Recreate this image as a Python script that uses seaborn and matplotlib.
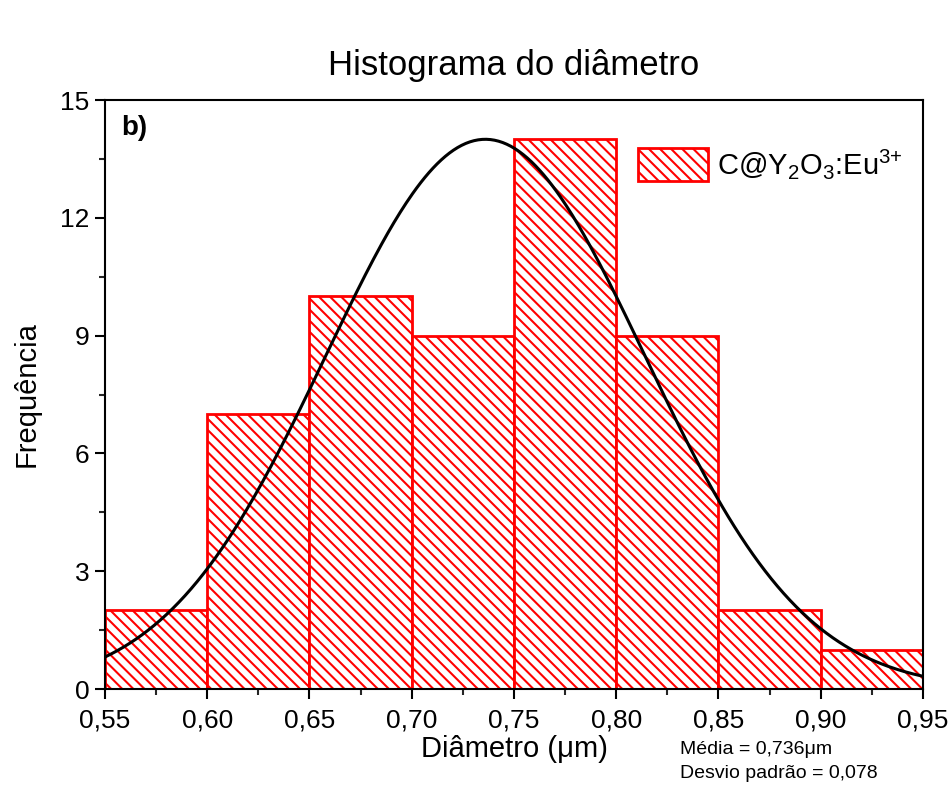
import numpy as np
import matplotlib
matplotlib.use("Agg")
import matplotlib.pyplot as plt
import seaborn as sns
from matplotlib.ticker import MultipleLocator, FuncFormatter

# Data
bin_edges = [0.55, 0.60, 0.65, 0.70, 0.75, 0.80, 0.85, 0.90, 0.95]
counts = [2, 7, 10, 9, 14, 9, 2, 1]
mean_d = 0.736
std_d = 0.078
fit_amplitude = 14.0

sns.set_theme(style="ticks")
plt.rcParams['font.family'] = ['Liberation Sans', 'DejaVu Sans']
plt.rcParams['text.color'] = 'black'
plt.rcParams['axes.labelcolor'] = 'black'
plt.rcParams['hatch.color'] = 'red'
plt.rcParams['hatch.linewidth'] = 1.5
plt.rcParams['mathtext.fontset'] = 'custom'
plt.rcParams['mathtext.rm'] = 'Liberation Sans'
plt.rcParams['mathtext.it'] = 'Liberation Sans'

fig, ax = plt.subplots(figsize=(9.52, 7.87), dpi=100)
fig.subplots_adjust(left=0.1103, right=0.9695, top=0.8729, bottom=0.1245)

centers = [(a + b) / 2 for a, b in zip(bin_edges[:-1], bin_edges[1:])]
sns.histplot(x=centers, weights=counts, bins=bin_edges, ax=ax,
             color='white', edgecolor='red', linewidth=2, alpha=1)
for p in ax.patches:
    p.set_hatch('\\\\\\')
    p.set_facecolor('white')
    p.set_edgecolor('red')

# Gaussian fit curve
xs = np.linspace(0.55, 0.95, 400)
ys = fit_amplitude * np.exp(-(xs - mean_d) ** 2 / (2 * std_d ** 2))
sns.lineplot(x=xs, y=ys, ax=ax, color='black', linewidth=2.2)

ax.set_xlim(0.55, 0.95)
ax.set_ylim(0, 15)
ax.xaxis.set_major_locator(MultipleLocator(0.05))
ax.xaxis.set_minor_locator(MultipleLocator(0.025))
ax.yaxis.set_major_locator(MultipleLocator(3))
ax.yaxis.set_minor_locator(MultipleLocator(1.5))
ax.xaxis.set_major_formatter(FuncFormatter(lambda v, p: f"{v:.2f}".replace('.', ',')))
ax.yaxis.set_major_formatter(FuncFormatter(lambda v, p: f"{v:.0f}"))
ax.tick_params(axis='both', which='major', length=7, width=1.5, direction='out',
               labelsize=19, colors='black', pad=4)
ax.tick_params(axis='x', which='major', pad=7)
ax.tick_params(axis='both', which='minor', length=4, width=1.5, direction='out')
for s in ax.spines.values():
    s.set_linewidth(1.5)
    s.set_color('black')
    s.set_visible(True)

ax.set_xlabel('Diâmetro (μm)', fontsize=21, labelpad=2)
ax.set_ylabel('Frequência', fontsize=21, labelpad=14)
ax.set_title('Histograma do diâmetro', fontsize=25, pad=18)

ax.text(0.02, 0.975, 'b)', transform=ax.transAxes, fontsize=20, fontweight='bold',
        va='top', ha='left')

leg = ax.legend(handles=[ax.patches[0]], labels=[r'C@Y$_2$O$_3$:Eu$^{3{+}}$'],
                loc='upper right', frameon=False, fontsize=21,
                bbox_to_anchor=(1.0, 0.955), handlelength=2.4, handleheight=1.4,
                handletextpad=0.3, borderaxespad=0.3)

fig.text(680 / 952, 1 - 750 / 787, 'Média = 0,736μm', fontsize=14, va='center', ha='left')
fig.text(680 / 952, 1 - 773 / 787, 'Desvio padrão = 0,078', fontsize=14, va='center', ha='left')

fig.savefig('out.png', dpi=100)
